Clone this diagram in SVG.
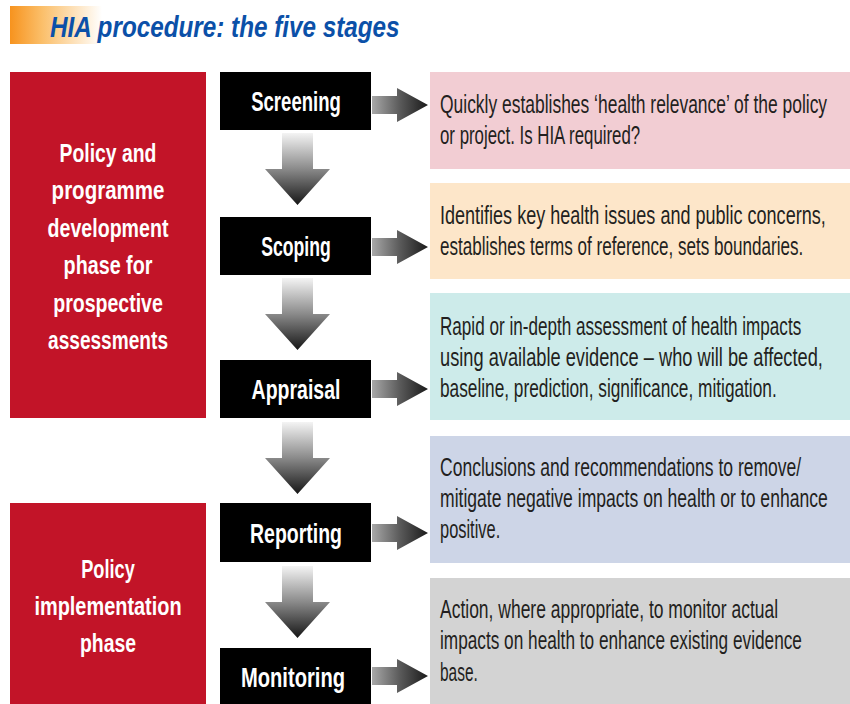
<svg xmlns="http://www.w3.org/2000/svg" xmlns:xlink="http://www.w3.org/1999/xlink" width="850" height="704" viewBox="0 0 850 704">
  <style>
    .title { font-family: "Liberation Sans", Arial, sans-serif; font-weight: bold; font-style: italic; font-size: 30px; fill: #0b50a8; }
    .phase { fill: #c21428; }
    .phase-text { font-family: "Liberation Sans", Arial, sans-serif; font-weight: bold; font-size: 25px; fill: #ffffff; text-anchor: middle; }
    .stage { fill: #000000; }
    .stage-text { font-family: "Liberation Sans", Arial, sans-serif; font-weight: bold; font-size: 27px; fill: #ffffff; text-anchor: middle; }
    .desc-text { font-family: "Liberation Sans", Arial, sans-serif; font-size: 25px; fill: #231f20; }
  </style>
  <defs>
    <linearGradient id="banner" x1="0" y1="0" x2="1" y2="0">
      <stop offset="0" stop-color="#f7931e"/>
      <stop offset="0.35" stop-color="#fbbf6a"/>
      <stop offset="1" stop-color="#ffffff"/>
    </linearGradient>
    <linearGradient id="gradRight" x1="0" y1="0" x2="1" y2="0">
      <stop offset="0" stop-color="#a8a8a8"/>
      <stop offset="0.5" stop-color="#5a5a5a"/>
      <stop offset="1" stop-color="#1a1a1a"/>
    </linearGradient>
    <linearGradient id="gradDown" x1="0" y1="0" x2="0" y2="1">
      <stop offset="0" stop-color="#f4f4f4"/>
      <stop offset="0.5" stop-color="#8a8a8a"/>
      <stop offset="1" stop-color="#161616"/>
    </linearGradient>
    <path id="arrowRight" d="M0,-9 H25 V-17 L56,0 L25,17 V9 H0 Z" fill="url(#gradRight)"/>
    <path id="arrowDown" d="M282,0 H313 V36 H330 L297.5,72 L265,36 H282 Z" fill="url(#gradDown)"/>
  </defs>

  <!-- Title -->
  <g id="title">
    <rect x="10" y="6" width="92" height="38" fill="url(#banner)"/>
    <text class="title" transform="translate(50,37) scale(0.8,1)" textLength="437" lengthAdjust="spacingAndGlyphs">HIA procedure: the five stages</text>
  </g>

  <!-- Phase blocks: condensed bold labels, centred at x=108 -->
  <g id="phase-development">
    <rect class="phase" x="10" y="72" width="196" height="346"/>
    <text class="phase-text" transform="translate(108,162) scale(0.8,1)" textLength="121" lengthAdjust="spacingAndGlyphs">Policy and</text>
    <text class="phase-text" transform="translate(108,199) scale(0.8,1)" textLength="141" lengthAdjust="spacingAndGlyphs">programme</text>
    <text class="phase-text" transform="translate(108,237) scale(0.8,1)" textLength="151" lengthAdjust="spacingAndGlyphs">development</text>
    <text class="phase-text" transform="translate(108,274) scale(0.8,1)" textLength="111" lengthAdjust="spacingAndGlyphs">phase for</text>
    <text class="phase-text" transform="translate(108,312) scale(0.8,1)" textLength="137" lengthAdjust="spacingAndGlyphs">prospective</text>
    <text class="phase-text" transform="translate(108,349) scale(0.8,1)" textLength="150" lengthAdjust="spacingAndGlyphs">assessments</text>
  </g>
  <g id="phase-implementation">
    <rect class="phase" x="10" y="503" width="196" height="201"/>
    <text class="phase-text" transform="translate(108,578) scale(0.8,1)" textLength="67" lengthAdjust="spacingAndGlyphs">Policy</text>
    <text class="phase-text" transform="translate(108,615) scale(0.8,1)" textLength="184" lengthAdjust="spacingAndGlyphs">implementation</text>
    <text class="phase-text" transform="translate(108,652) scale(0.8,1)" textLength="70" lengthAdjust="spacingAndGlyphs">phase</text>
  </g>

  <!-- Stages -->
  <g id="stage-screening">
    <rect class="stage" x="220" y="72" width="151" height="58"/>
    <text class="stage-text" transform="translate(296,111) scale(0.8,1)" textLength="112" lengthAdjust="spacingAndGlyphs">Screening</text>
  </g>
  <g id="stage-scoping">
    <rect class="stage" x="220" y="217" width="151" height="58"/>
    <text class="stage-text" transform="translate(296,256) scale(0.8,1)" textLength="87" lengthAdjust="spacingAndGlyphs">Scoping</text>
  </g>
  <g id="stage-appraisal">
    <rect class="stage" x="220" y="360" width="151" height="58"/>
    <text class="stage-text" transform="translate(296,399) scale(0.8,1)" textLength="111" lengthAdjust="spacingAndGlyphs">Appraisal</text>
  </g>
  <g id="stage-reporting">
    <rect class="stage" x="220" y="503" width="151" height="59"/>
    <text class="stage-text" transform="translate(296,543) scale(0.8,1)" textLength="115" lengthAdjust="spacingAndGlyphs">Reporting</text>
  </g>
  <g id="stage-monitoring">
    <rect class="stage" x="220" y="648" width="151" height="56"/>
    <text class="stage-text" transform="translate(293,687) scale(0.8,1)" textLength="130" lengthAdjust="spacingAndGlyphs">Monitoring</text>
  </g>

  <!-- Descriptions: condensed text, left edge at x=440 -->
  <g id="desc-screening">
    <rect x="430" y="72" width="420" height="97" fill="#f2cdd3"/>
    <text class="desc-text" transform="translate(440,113) scale(0.7,1)" textLength="553" lengthAdjust="spacingAndGlyphs">Quickly establishes ‘health relevance’ of the policy</text>
    <text class="desc-text" transform="translate(440,144) scale(0.7,1)" textLength="286" lengthAdjust="spacingAndGlyphs">or project. Is HIA required?</text>
  </g>
  <g id="desc-scoping">
    <rect x="430" y="183" width="420" height="96" fill="#fde6c9"/>
    <text class="desc-text" transform="translate(440,224) scale(0.7,1)" textLength="551" lengthAdjust="spacingAndGlyphs">Identifies key health issues and public concerns,</text>
    <text class="desc-text" transform="translate(440,255) scale(0.7,1)" textLength="519" lengthAdjust="spacingAndGlyphs">establishes terms of reference, sets boundaries.</text>
  </g>
  <g id="desc-appraisal">
    <rect x="430" y="293" width="420" height="127" fill="#cdebea"/>
    <text class="desc-text" transform="translate(440,335) scale(0.7,1)" textLength="516" lengthAdjust="spacingAndGlyphs">Rapid or in-depth assessment of health impacts</text>
    <text class="desc-text" transform="translate(440,366) scale(0.7,1)" textLength="547" lengthAdjust="spacingAndGlyphs">using available evidence – who will be affected,</text>
    <text class="desc-text" transform="translate(440,397) scale(0.7,1)" textLength="481" lengthAdjust="spacingAndGlyphs">baseline, prediction, significance, mitigation.</text>
  </g>
  <g id="desc-reporting">
    <rect x="430" y="436" width="420" height="127" fill="#cdd5e7"/>
    <text class="desc-text" transform="translate(440,476) scale(0.7,1)" textLength="516" lengthAdjust="spacingAndGlyphs">Conclusions and recommendations to remove/</text>
    <text class="desc-text" transform="translate(440,507) scale(0.7,1)" textLength="554" lengthAdjust="spacingAndGlyphs">mitigate negative impacts on health or to enhance</text>
    <text class="desc-text" transform="translate(440,538) scale(0.7,1)" textLength="86" lengthAdjust="spacingAndGlyphs">positive.</text>
  </g>
  <g id="desc-monitoring">
    <rect x="430" y="578" width="420" height="126" fill="#d3d3d3"/>
    <text class="desc-text" transform="translate(440,618) scale(0.7,1)" textLength="483" lengthAdjust="spacingAndGlyphs">Action, where appropriate, to monitor actual</text>
    <text class="desc-text" transform="translate(440,649) scale(0.7,1)" textLength="517" lengthAdjust="spacingAndGlyphs">impacts on health to enhance existing evidence</text>
    <text class="desc-text" transform="translate(440,681) scale(0.7,1)" textLength="54" lengthAdjust="spacingAndGlyphs">base.</text>
  </g>

  <!-- Connectors -->
  <g id="connectors">
    <use xlink:href="#arrowRight" transform="translate(372,105)"/>
    <use xlink:href="#arrowRight" transform="translate(372,247)"/>
    <use xlink:href="#arrowRight" transform="translate(372,389)"/>
    <use xlink:href="#arrowRight" transform="translate(372,533)"/>
    <use xlink:href="#arrowRight" transform="translate(372,676)"/>
    <use xlink:href="#arrowDown" transform="translate(0,133)"/>
    <use xlink:href="#arrowDown" transform="translate(0,278)"/>
    <use xlink:href="#arrowDown" transform="translate(0,422)"/>
    <use xlink:href="#arrowDown" transform="translate(0,566)"/>
  </g>
</svg>
